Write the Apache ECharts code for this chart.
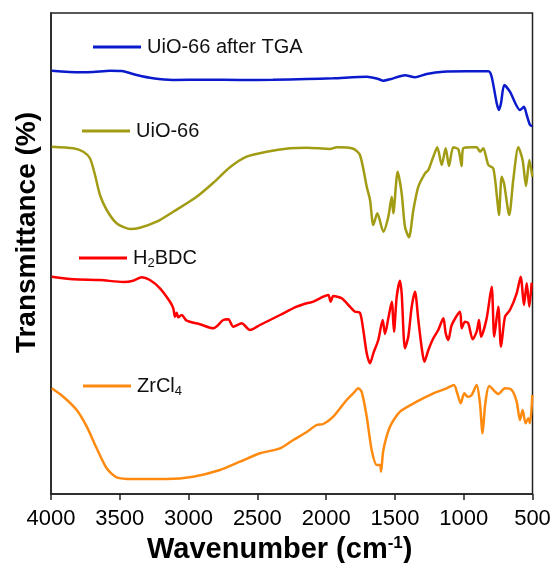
<!DOCTYPE html>
<html>
<head>
<meta charset="utf-8">
<script src="https://cdn.jsdelivr.net/npm/echarts@6/dist/echarts.min.js"></script>
<style>html,body{margin:0;padding:0;background:#fff}#c{width:557px;height:563px}</style>
</head>
<body>
<div id="c"></div>
<script>
// Tick labels of the wavenumber axis
const xTicks = [4000, 3500, 3000, 2500, 2000, 1500, 1000, 500];

// UiO-66 after TGA (stacked, arbitrary transmittance units)
const tgaWn = [3995,3789,3693,3571,3486,3377,3259,3114,2868,2627,2387,2142,1950,1705,1621,1585,1536,1427,1354,1269,1148,978,821,797,760,744,729,705,664,591,562,542,518,501];
const tgaT  = [423.3,421.7,422,423.3,423,419,415.7,414,414.3,414,414.3,415,415.7,417.3,415,413.3,414.7,418.7,416.7,420,422.3,422.7,422.7,417.3,390.7,384,390.7,409,402.3,384,387.3,379,369,368];

// UiO-66
const uioWn = [3995,3838,3765,3717,3680,3644,3595,3523,3426,3353,3232,3111,2941,2820,2699,2578,2432,2263,2141,1972,1923,1803,1754,1705,1681,1657,1628,1584,1548,1523,1512,1480,1451,1427,1398,1366,1330,1281,1257,1221,1192,1160,1131,1107,1076,1039,1015,1003,942,905,882,858,821,785,756,744,724,707,669,640,603,572,547,523,501];
const uioT  = [347.3,345.7,342.3,335.7,319,299,284,270.7,265,266.3,272.3,282.3,297.3,311.3,326.7,337.3,342.3,345.7,346.3,345,346.7,345.3,339,307.3,294,269,280.7,262.3,277.3,297.3,280.7,322.3,300.7,267.3,256.7,284,307.3,320.7,324,337.3,346.7,329,345.7,328,346.7,344.7,328,345.7,346.7,346.7,342.3,345.7,329,325.7,294,279,317.3,310.7,279,314,346.7,334,308,334,317.3];

// H2BDC
const bdcWn = [3995,3838,3644,3474,3402,3341,3281,3208,3135,3111,3099,3086,3075,3050,3014,2917,2820,2748,2711,2675,2614,2554,2481,2335,2214,2141,2093,2021,1984,1967,1948,1887,1827,1790,1754,1730,1705,1681,1657,1621,1589,1572,1548,1523,1507,1487,1463,1451,1427,1403,1378,1354,1330,1305,1286,1257,1221,1185,1148,1131,1112,1087,1027,1015,991,967,935,906,889,874,833,797,778,749,729,700,664,615,586,562,542,523,506];
const bdcT  = [217.3,214.7,214,212,213.3,216.7,214,205.7,192.3,185.7,177.3,181.3,176.7,179,173.3,169.7,165.7,174,174.7,167.3,170.7,164,169,179,187.3,190.7,192.3,197.3,199,192.3,198,195.7,187.3,182.3,181.3,164,140.7,130.7,140.7,154,174,160,175.7,192.3,162.3,197.3,213.3,200.7,145.7,157.3,187.3,202.3,174,145.7,132.3,144,155.7,164,175.7,160.7,154,169,182.3,165.7,172.3,170.7,154.7,162.3,174,157.3,175.7,207.3,157.3,187.3,147.3,177.3,184,200.7,217.3,189,210.7,187.3,211.3];

// ZrCl4
const zrWn = [3995,3911,3813,3740,3668,3595,3523,3402,3159,2966,2772,2626,2481,2335,2239,2141,2069,2021,1948,1851,1803,1766,1742,1705,1669,1632,1608,1601,1584,1536,1463,1342,1221,1124,1071,1047,1022,996,971,942,906,882,863,843,814,749,700,651,615,591,572,550,531,518,501];
const zrT  = [105.7,97.3,84,67.3,45.7,25.7,16.7,15,15,17.3,24,32.3,40.7,45.7,54,62,69,70,77.3,94,100.7,105.7,102.3,77.3,44,29,29,22.3,44,67.3,82.3,92.3,100.7,105.7,109,100.7,90.7,100.7,97.3,99,109,90.7,60.7,90.7,108,100,105.7,104,92.3,74,84,70.7,75.7,70.7,99];

const names = ['UiO-66 after TGA', 'UiO-66', 'H2BDC', 'ZrCl4'];
const colors = ['#0a1acc', '#a19c14', '#ff0000', '#ff8a10'];

function pairs(w, t) { return w.map((v, i) => [v, t[i]]); }
const seriesData = [pairs(tgaWn, tgaT), pairs(uioWn, uioT), pairs(bdcWn, bdcT), pairs(zrWn, zrT)];

const FONT = '"Liberation Sans", Arial, sans-serif';
const legendPos = [
  {left: 93, cy: 47},
  {left: 82, cy: 131},
  {left: 79, cy: 258},
  {left: 83, cy: 386}
];

const chart = echarts.init(document.getElementById('c'), null, {renderer: 'canvas'});
chart.setOption({
  animation: false,
  backgroundColor: '#fff',
  grid: {left: 51, right: 24.5, top: 13, bottom: 69, containLabel: false, outerBoundsMode: 'none',
         show: true, borderColor: '#222', borderWidth: 1.5, backgroundColor: 'transparent'},
  legend: names.map((n, i) => ({
    data: [n],
    left: legendPos[i].left,
    top: legendPos[i].cy - 13,
    icon: 'rect',
    itemWidth: 48,
    itemHeight: 3,
    padding: 0,
    selectedMode: false,
    formatter: function (name) {
      if (name === 'H2BDC') return 'H{sub|2}BDC';
      if (name === 'ZrCl4') return 'ZrCl{sub|4}';
      return name;
    },
    textStyle: {
      fontFamily: FONT, fontSize: 20, color: '#111', lineHeight: 26, padding: [0, 0, 0, 1],
      rich: {sub: {fontFamily: FONT, fontSize: 13, color: '#111', lineHeight: 26, padding: [10, 0, 0, 0]}}
    }
  })),
  xAxis: {
    type: 'value',
    inverse: true,
    min: 500,
    max: 4000,
    interval: 500,
    name: 'Wavenumber (cm{sup|-1})',
    nameLocation: 'middle',
    nameGap: 36,
    nameTextStyle: {
      fontFamily: FONT, fontSize: 29, fontWeight: 'bold', color: '#000', padding: [0, 24, 0, 0],
      rich: {sup: {fontFamily: FONT, fontSize: 17, fontWeight: 'bold', color: '#000', padding: [0, 0, 14, 0]}}
    },
    axisLine: {lineStyle: {color: '#222', width: 1.5}},
    axisTick: {inside: false, length: 6, lineStyle: {color: '#222', width: 1.5}},
    axisLabel: {
      fontFamily: FONT, fontSize: 22, color: '#000', margin: 14,
      formatter: v => xTicks.includes(v) ? String(v) : ''
    },
    splitLine: {show: false}
  },
  yAxis: {
    type: 'value',
    min: 0,
    max: 481,
    name: 'Transmittance (%)',
    nameLocation: 'middle',
    nameGap: 10,
    nameTextStyle: {fontFamily: FONT, fontSize: 28, fontWeight: 'bold', color: '#000', padding: [0, 0, 0, 42]},
    axisLine: {show: true, lineStyle: {color: '#222', width: 1.5}},
    axisTick: {show: false},
    axisLabel: {show: false},
    splitLine: {show: false}
  },
  series: names.map((n, i) => ({
    name: n,
    type: 'line',
    data: seriesData[i],
    showSymbol: false,
    symbol: 'none',
    smooth: 0.25,
    lineStyle: {color: colors[i], width: 2.5},
    itemStyle: {color: colors[i]}
  }))
});
</script>
</body>
</html>
